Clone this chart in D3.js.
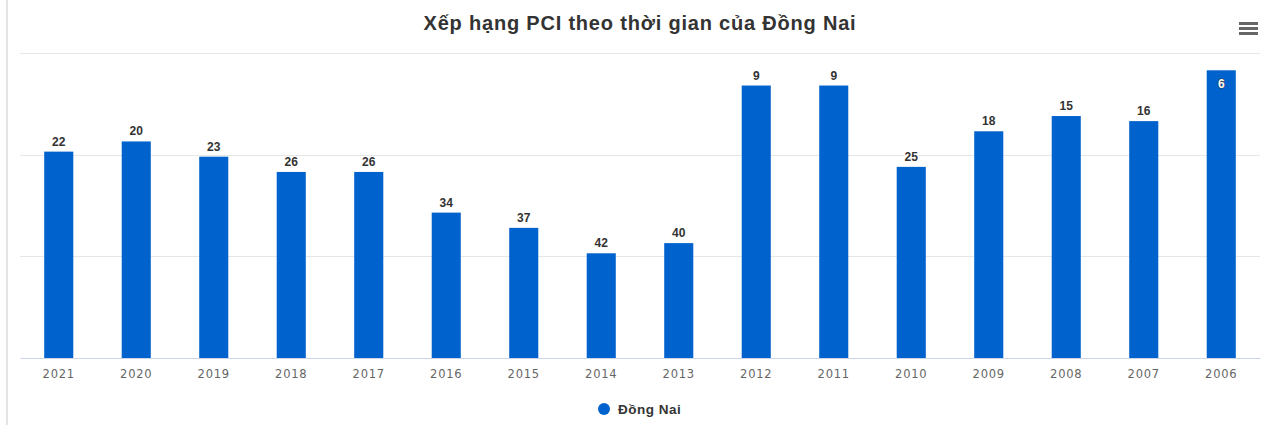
<!DOCTYPE html>
<html>
<head>
<meta charset="utf-8">
<script src="https://cdn.jsdelivr.net/npm/d3@7"></script>
<style>
  body { margin: 0; background: #fff; }
  .chart { width: 1266px; height: 425px; }
</style>
</head>
<body>
<div class="chart"></div>
<script>
// data (PCI rank per year, lower rank = taller bar)
var years = ["2021", "2020", "2019", "2018", "2017", "2016", "2015", "2014", "2013", "2012", "2011", "2010", "2009", "2008", "2007", "2006"];
var ranks = [22, 20, 23, 26, 26, 34, 37, 42, 40, 9, 9, 25, 18, 15, 16, 6];
var seriesName = "Đồng Nai";
var chartTitle = "Xếp hạng PCI theo thời gian của Đồng Nai";

var svgWidth = 1266;
var svgHeight = 425;

var chartMargin = {
  top: 53,
  right: 6,
  bottom: 67,
  left: 20
};

var width = svgWidth - chartMargin.left - chartMargin.right;
var height = svgHeight - chartMargin.top - chartMargin.bottom;

var svg = d3.select(".chart")
  .append("svg")
  .attr("width", svgWidth)
  .attr("height", svgHeight)
  .style("font-family", "'Liberation Sans', Arial, sans-serif");

// left border line of the container
svg.append("line")
  .attr("x1", 7).attr("x2", 7)
  .attr("y1", 0).attr("y2", svgHeight)
  .attr("stroke", "#e3e3e3")
  .attr("stroke-width", 2);

svg.append("text")
  .attr("x", chartMargin.left + width / 2)
  .attr("y", 30)
  .attr("text-anchor", "middle")
  .attr("font-size", 20)
  .attr("letter-spacing", 0.8)
  .attr("font-weight", "bold")
  .attr("fill", "#333")
  .text(chartTitle);

// hamburger menu
var menu = svg.append("g").attr("transform", "translate(1239,22)");
[0, 5, 10].forEach(function(d) {
  menu.append("rect")
    .attr("x", 0).attr("y", d)
    .attr("width", 19).attr("height", 3)
    .attr("fill", "#666");
});

var chart = svg.append("g")
  .attr("transform", "translate(" + chartMargin.left + "," + chartMargin.top + ")");

var xBandScale = d3.scaleBand()
  .domain(years)
  .range([0, width])
  .paddingInner(0.625)
  .paddingOuter(0.3125);

// rank axis: rank 62.6 at baseline, gridlines every 20
var yLinearScale = d3.scaleLinear()
  .domain([62.6, 2.6])
  .range([height, 0]);

var gridVals = [62.6, 42.6, 22.6, 2.6];
chart.append("g").selectAll("line")
  .data(gridVals.slice(1))
  .enter().append("line")
  .attr("x1", 0).attr("x2", width)
  .attr("y1", function(d) { return Math.round(yLinearScale(d)) + 0.5; })
  .attr("y2", function(d) { return Math.round(yLinearScale(d)) + 0.5; })
  .attr("stroke", "#e6e6e6");

var bars = chart.append("g").selectAll("rect")
  .data(ranks)
  .enter().append("rect")
  .attr("x", function(d, i) { return xBandScale(years[i]); })
  .attr("y", function(d) { return yLinearScale(d); })
  .attr("width", xBandScale.bandwidth())
  .attr("height", function(d) { return yLinearScale(62.6) - yLinearScale(d); })
  .attr("fill", "#0062cc");

// data labels (inside the bar when there is no room above)
function inside(d) { return yLinearScale(d) - 18 < 0; }
chart.append("g").selectAll("text")
  .data(ranks)
  .enter().append("text")
  .attr("x", function(d, i) { return xBandScale(years[i]) + xBandScale.bandwidth() / 2; })
  .attr("y", function(d) {
    var y = yLinearScale(d);
    return inside(d) ? y + 18 : y - 6;
  })
  .attr("text-anchor", "middle")
  .attr("font-size", 12)
  .attr("font-weight", "bold")
  .attr("fill", function(d) { return inside(d) ? "#fff" : "#333"; })
  .attr("stroke", function(d) { return inside(d) ? "#333" : "#fff"; })
  .attr("stroke-width", function(d) { return inside(d) ? 1 : 2; })
  .attr("paint-order", "stroke")
  .text(function(d) { return d; });

// x axis
var bottomAxis = d3.axisBottom(xBandScale).tickSize(0).tickPadding(12);
var xAxis = chart.append("g")
  .attr("transform", "translate(0," + height + ")")
  .call(bottomAxis);
xAxis.select(".domain").attr("stroke", "#ccd6eb");
xAxis.selectAll("text")
  .attr("font-family", "'DejaVu Sans', Verdana, sans-serif")
  .attr("font-size", 11.5)
  .attr("letter-spacing", 0.8)
  .attr("fill", "#666");

// legend
var legend = svg.append("g").attr("transform", "translate(604,409)");
legend.append("circle")
  .attr("r", 6)
  .attr("fill", "#0062cc");
legend.append("text")
  .attr("x", 14)
  .attr("y", 5)
  .attr("font-size", 13.5)
  .attr("letter-spacing", 0.5)
  .attr("font-weight", "bold")
  .attr("fill", "#333")
  .text(seriesName);
</script>
</body>
</html>
